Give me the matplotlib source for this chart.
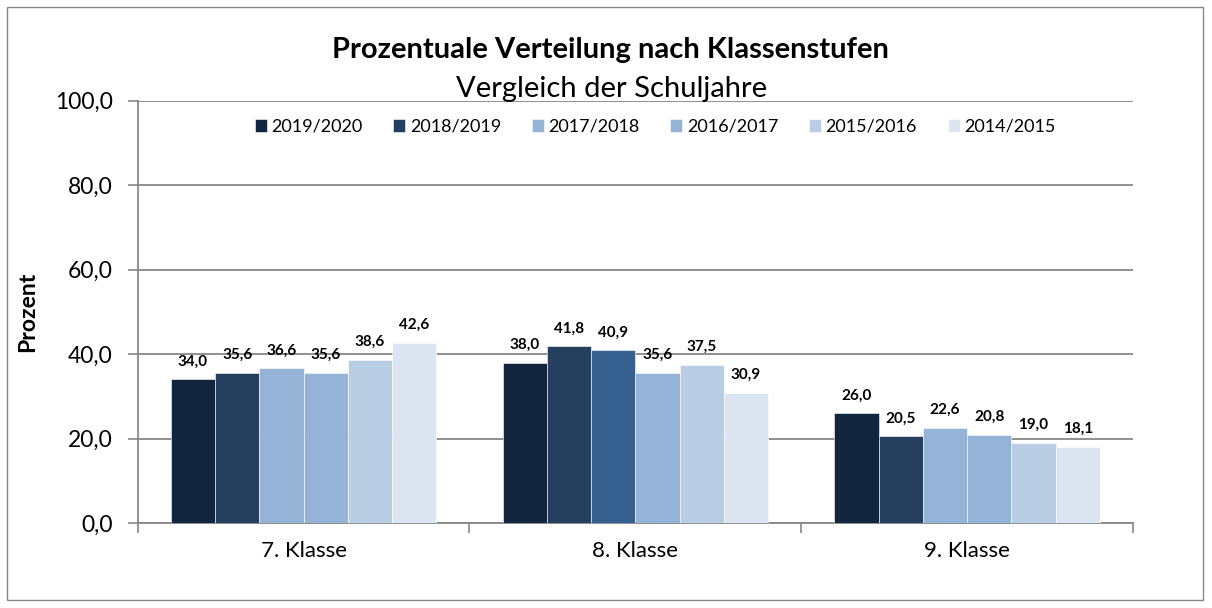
import matplotlib
matplotlib.use("Agg")
import matplotlib.pyplot as plt
import numpy as np
from matplotlib.patches import Rectangle
from matplotlib.ticker import FixedLocator, FuncFormatter

# data
klassen = ["7. Klasse", "8. Klasse", "9. Klasse"]
schuljahre = ["2019/2020", "2018/2019", "2017/2018", "2016/2017", "2015/2016", "2014/2015"]
werte_2019_2020 = [34.0, 38.0, 26.0]
werte_2018_2019 = [35.6, 41.8, 20.5]
werte_2017_2018 = [36.6, 40.9, 22.6]
werte_2016_2017 = [35.6, 35.6, 20.8]
werte_2015_2016 = [38.6, 37.5, 19.0]
werte_2014_2015 = [42.6, 30.9, 18.1]
y_ticks = [0, 20, 40, 60, 80, 100]

serien = [werte_2019_2020, werte_2018_2019, werte_2017_2018,
          werte_2016_2017, werte_2015_2016, werte_2014_2015]

farben = ["#12253f", "#263f5f", "#95b3d7", "#95b3d7", "#b9cde5", "#dce6f2"]
# one bar in the original has its own fill (8. Klasse, 2017/2018)
farbe_extra = {(2, 1): "#36608f"}
grau = "#878787"


def komma(v, pos=None):
    return f"{v:.1f}".replace(".", ",")


plt.rcParams["font.family"] = ["Lato", "DejaVu Sans"]

fig = plt.figure(figsize=(12.12, 6.08), dpi=100)
fig.patches.append(Rectangle((7 / 1212, 8 / 608), 1196 / 1212, 593 / 608,
                             transform=fig.transFigure, fill=False,
                             edgecolor=grau, linewidth=1.0))

ax = fig.add_axes([0.1136, 0.1398, 0.8212, 0.6946])

n = len(schuljahre)
breite = 0.8 / n
x = np.arange(len(klassen))
for i, (name, werte) in enumerate(zip(schuljahre, serien)):
    pos = x - 0.4 + breite * (i + 0.5)
    cols = [farbe_extra.get((i, j), farben[i]) for j in range(len(klassen))]
    bars = ax.bar(pos, werte, width=breite, color=cols, edgecolor="white",
                  linewidth=0.4, label=name, zorder=3)
    for b, v in zip(bars, werte):
        ax.annotate(komma(v), (b.get_x() + b.get_width() / 2, v),
                    xytext=(0, 10), textcoords="offset points",
                    ha="center", va="baseline", fontsize=11, fontweight="bold",
                    color="black")

ax.set_xlim(-0.5, len(klassen) - 0.5)
ax.set_ylim(0, 100)
ax.set_yticks(y_ticks)
ax.yaxis.set_major_formatter(FuncFormatter(komma))
ax.set_xticks(x)
ax.set_xticklabels(klassen)
ax.xaxis.set_minor_locator(FixedLocator(np.arange(-0.5, len(klassen), 1.0)))
ax.tick_params(axis="x", which="major", length=0, pad=13, labelsize=16)
ax.tick_params(axis="x", which="minor", length=7, width=1.2, color=grau, direction="out")
ax.tick_params(axis="y", length=7, width=1.2, color=grau, direction="out",
               pad=11, labelsize=16.5)

ax.grid(axis="y", color=grau, linewidth=1.3, zorder=0)
for s in ["top", "right"]:
    ax.spines[s].set_visible(False)
for s in ["left", "bottom"]:
    ax.spines[s].set_color(grau)
    ax.spines[s].set_linewidth(1.3)

ax.set_ylabel("Prozent", fontsize=16.5, fontweight="bold")
ax.yaxis.set_label_coords(-0.100, 0.5)

fig.text(0.504, 1 - 58 / 608, "Prozentuale Verteilung nach Klassenstufen",
         ha="center", va="baseline", fontsize=21, fontweight="bold")
fig.text(0.5047, 1 - 96.5 / 608, "Vergleich der Schuljahre",
         ha="center", va="baseline", fontsize=21)

ax.legend(loc="center", bbox_to_anchor=(0.52, 0.938), ncol=n,
          frameon=False, fontsize=13, handlelength=0.67, handleheight=0.67,
          handletextpad=0.25, columnspacing=1.7, borderpad=0)

fig.savefig("out.png", dpi=100)
